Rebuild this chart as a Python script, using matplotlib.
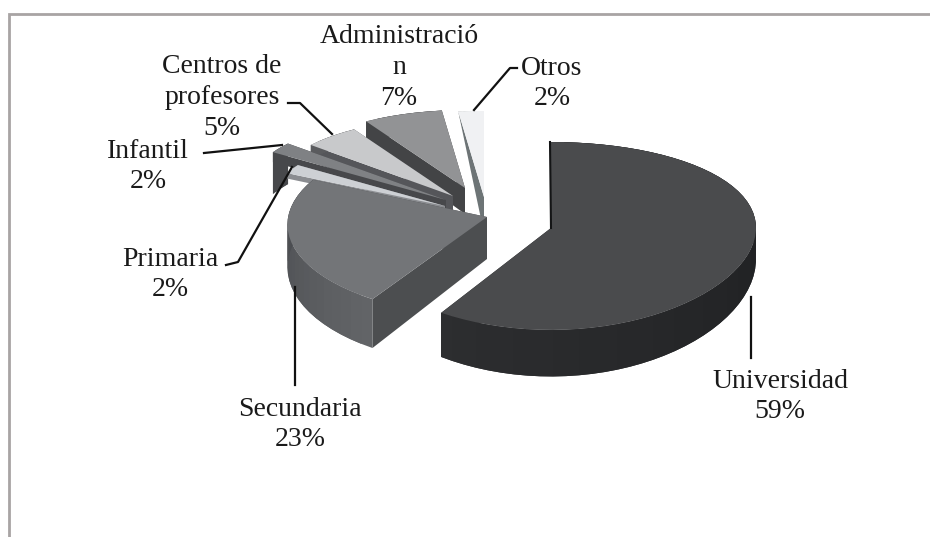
import matplotlib
matplotlib.use("Agg")
import matplotlib.pyplot as plt
from matplotlib.colors import to_rgb
import numpy as np

# data
categories = ["Universidad", "Secundaria", "Primaria", "Infantil", "Centros de\nprofesores", "Administració\nn", "Otros"]
percent = [59, 23, 2, 2, 5, 7, 2]

# look of each slice
top_colors = ["#4a4b4d", "#737578", "#cdd0d4", "#7f8184", "#c8c9cb", "#929395", "#f0f1f3"]
wall_start = ["#17181a", "#626467", "#8a8c90", "#47484b", "#5a5b5e", "#434446", "#6d7476"]
wall_end = ["#2d2e30", "#44464a", "#8a8c90", "#47484b", "#5a5b5e", "#434446", "#6d7476"]
cut_colors = ["#242527", "#4c4e50", "#8a8c90", "#47484b", "#55565a", "#434446", "#6d7476"]
apex_x = [551, 487, 445, 446, 453, 465, 484]
apex_y = [228, 217, 206, 200, 196, 188, 197]
depth0 = [31, 42, 6, 50, 17, 26, 36]
depth_slope = [0.5, 0.2, 0.3, 0.3, 0.3, 0.25, 1.0]
cut_depth = [None, None, None, 10, None, None, None]
radius_scale = [1, 0.97, 0.85, 1, 0.9, 0.9, 1]
x_persp = [0, 1, 0, 0, 0, 0, 0]
# primaria goes over the wall of infantil
order = [6, 5, 4, 3, 2, 1, 0]

# pie plane projection, pixels
RX = 205
RY = 93.3
PERSP = 0.085

label_x = [780, 300, 170, 148, 222, 399, 552]
label_y = [394, 422, 272, 164, 95, 65, 81]

leaders = [
    ([751, 751], [297, 358]),
    ([295, 295], [287, 385]),
    ([226, 238, 292], [265, 262, 167]),
    ([204, 282], [153, 145]),
    ([288, 300, 332], [103, 103, 134]),
    ([517, 510, 474], [68, 68, 110]),
]


def project(ang, r, cx, cy, xp):
    u = r * np.sin(ang)
    v = r * np.cos(ang)
    p = 1 / (1 + PERSP * v)
    return cx + RX * u * (p if xp else 1), cy - RY * v * p, v


fig = plt.figure(figsize=(9.3, 5.37), dpi=100, facecolor="white")
ax = fig.add_axes([0, 0, 1, 1])
ax.set_xlim(0, 930)
ax.set_ylim(537, 0)
ax.axis("off")

# frame of the chart, only top and left survive in the scan
ax.plot([9, 9, 930], [537, 13.5, 13.5], color="#a8a4a4", lw=2, solid_joinstyle="miter")

edges = np.cumsum([0] + percent) / 100 * 2 * np.pi

for z, i in enumerate(order):
    ang = np.linspace(edges[i], edges[i + 1], max(6, percent[i]))
    cx, cy = apex_x[i], apex_y[i]
    xs, ys, vs = project(ang, radius_scale[i], cx, cy, x_persp[i])
    ds = depth0[i] * (1 - depth_slope[i] * vs)

    # cut walls
    for k in [0, -1]:
        d = ds[k] if cut_depth[i] is None else cut_depth[i]
        d_apex = depth0[i] if cut_depth[i] is None else cut_depth[i]
        ax.fill([cx, xs[k], xs[k], cx], [cy, ys[k], ys[k] + d, cy + d_apex],
                color=cut_colors[i], lw=0, zorder=2 + z)

    # outer wall, strips that overlap the next one so no seams show
    a, b = np.array(to_rgb(wall_start[i])), np.array(to_rgb(wall_end[i]))
    n = len(ang)
    for s in range(n - 1):
        col = a + (b - a) * s / (n - 1)
        e = min(s + 2, n - 1)
        ax.fill(np.r_[xs[s:e + 1], xs[s:e + 1][::-1]],
                np.r_[ys[s:e + 1], (ys + ds)[s:e + 1][::-1]],
                color=col, lw=0, zorder=2 + z + 0.2 + s * 1e-4)

    # top face
    ax.fill(np.r_[cx, xs], np.r_[cy, ys], color=top_colors[i], lw=0, zorder=2 + z + 0.5)

    # thin dark edge on the back cut of the big slice
    if i == 0:
        ax.plot([xs[0] - 1, cx], [ys[0], cy], color="#141516", lw=1.5, zorder=10)

for lx, ly in leaders:
    ax.plot(lx, ly, color="#111111", lw=1.6, zorder=20)

for name, pct, x, y in zip(categories, percent, label_x, label_y):
    # a touch lower than the block centre, the scan sits this way
    ax.text(x, y + 2.5, f"{name}\n{pct}%", ha="center", va="center", family="Liberation Serif",
            fontsize=20, color="#1a1a1a", linespacing=1.3, zorder=30)

fig.savefig("out.png", dpi=100, facecolor="white")
